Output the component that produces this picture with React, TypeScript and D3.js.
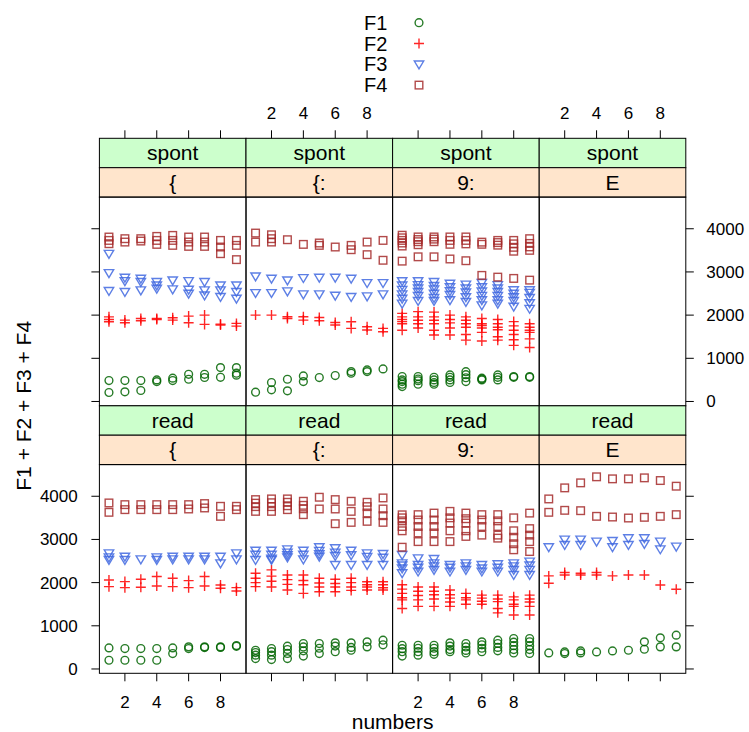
import React from "react";
import * as d3 from "d3";

// formant values per x level (1..9), several observations per level
const series = ["F1", "F2", "F3", "F4"];
const outerLevels = ["spont", "read"];
const innerLevels = ["{", "{:", "9:", "E"];

const spontA_F1 = [[485, 208], [485, 223], [485, 254], [460, 500], [485, 540], [630, 515], [630, 555], [785, 560], [785, 655, 610]];
const spontA_F2 = [[1960, 1900, 1846], [1885, 1823], [1923, 1870], [1923, 1900], [1938, 1885], [1977, 1823], [2000, 1785], [1792, 1770], [1808, 1746]];
const spontA_F3 = [[3423, 2977, 2562], [2870, 2792, 2540], [2846, 2770, 2577], [2770, 2692, 2615], [2808, 2600], [2792, 2592, 2500], [2770, 2577, 2460], [2692, 2577, 2423], [2692, 2540, 2385]];
const spontA_F4 = [[3808, 3730, 3654], [3770, 3692], [3770, 3715], [3823, 3730, 3638], [3846, 3730, 3615], [3808, 3692, 3592], [3808, 3692, 3592], [3730, 3577, 3423], [3730, 3615, 3285]];

const spontB_F1 = [[215], [438, 270], [515, 246], [592, 460], [554], [600], [692, 654], [730, 692], [754]];
const spontB_F2 = [[2000], [2000], [1962, 1923], [1962, 1885], [1946, 1870], [1830, 1770], [1846, 1692], [1730, 1654], [1692, 1615]];
const spontB_F3 = [[2900, 2515], [2846, 2515], [2808, 2554], [2862, 2485], [2870, 2485], [2870, 2454], [2846, 2423], [2746, 2438], [2746, 2485]];
const spontB_F4 = [[3900, 3692], [3860, 3770, 3692], [3746], [3638], [3670, 3615], [3577], [3615, 3515], [3692, 3400], [3730, 3270]];

const spontC_F1 = [[577, 500, 460, 400, 346], [577, 520, 480, 400], [560, 500, 440, 400], [615, 560, 500, 440], [690, 620, 550, 460], [540, 520, 500], [615, 560, 500], [577, 560], [577, 560]];
const spontC_F2 = [[2040, 1960, 1900, 1850, 1800, 1650], [2080, 1960, 1880, 1800, 1700], [2070, 1960, 1880, 1800, 1650, 1540], [2000, 1900, 1820, 1700, 1540], [1960, 1880, 1800, 1720, 1550, 1420], [1920, 1800, 1760, 1700, 1600, 1400], [1900, 1800, 1720, 1660, 1500, 1420], [1850, 1750, 1650, 1550, 1430, 1300], [1800, 1720, 1650, 1600, 1450, 1250]];
const spontC_F3 = [[2790, 2690, 2590, 2485, 2385, 2270], [2790, 2700, 2620, 2540, 2450, 2330], [2770, 2680, 2600, 2500, 2400, 2330], [2730, 2650, 2560, 2470, 2350], [2710, 2620, 2530, 2420, 2310], [2750, 2650, 2550, 2450, 2350, 2230], [2700, 2620, 2540, 2450, 2350, 2270], [2580, 2500, 2420, 2330, 2200], [2580, 2520, 2400, 2280, 2150]];
const spontC_F4 = [[3850, 3790, 3730, 3670, 3600, 3250], [3810, 3750, 3700, 3630, 3350], [3810, 3760, 3700, 3350], [3810, 3730, 3640, 3300], [3810, 3730, 3650, 3260], [3690, 3640, 2920], [3730, 3680, 3620, 2880], [3730, 3650, 3570, 3480, 2850], [3770, 3660, 3580, 3500, 2810]];

const readA_F1 = [[488, 202], [473, 202], [473, 202], [473, 202], [488, 357], [512, 473], [496, 512], [512, 500], [543, 525]];
const readA_F2 = [[2062, 1907], [2023, 1884], [2077, 1891], [2140, 1922], [2100, 1907], [2047, 1884], [2140, 1922], [1946, 1868], [1884, 1806]];
const readA_F3 = [[2682, 2589, 2527], [2605, 2527], [2543], [2589, 2527], [2605, 2543], [2605, 2543], [2605, 2543], [2605, 2450], [2682, 2543]];
const readA_F4 = [[3845, 3628], [3806, 3690], [3806, 3690], [3806, 3690], [3806, 3690], [3806, 3705], [3830, 3729], [3767, 3535], [3767, 3690]];

const readB_F1 = [[434, 380, 320, 240], [473, 400, 320, 217], [527, 450, 360, 240], [589, 510, 420, 300], [589, 480, 357], [605, 530, 400], [605, 500, 434], [628, 512], [667, 560]];
const readB_F2 = [[2217, 2100, 2000, 1907], [2295, 2150, 2030, 1900], [2178, 2070, 1960, 1830], [2178, 2050, 1950, 1750], [2100, 1990, 1900, 1790], [2077, 1980, 1900, 1790], [2100, 2000, 1900, 1820], [2020, 1950, 1900, 1830], [2020, 1950, 1880, 1830]];
const readB_F3 = [[2744, 2650, 2527], [2744, 2650, 2560, 2527], [2775, 2700, 2640, 2589], [2744, 2650, 2543], [2822, 2740, 2660, 2605], [2800, 2700, 2620, 2411], [2744, 2640, 2411], [2682, 2600, 2411], [2667, 2580, 2411]];
const readB_F4 = [[3922, 3840, 3760, 3650], [3938, 3850, 3760, 3650], [3938, 3860, 3780, 3690], [3884, 3790, 3710, 3574], [3977, 3705], [3922, 3705, 3364], [3884, 3650, 3395], [3860, 3760, 3612, 3419], [3961, 3705, 3550, 3395]];

const readC_F1 = [[550, 470, 400, 300], [550, 480, 400, 320], [550, 480, 400, 340], [605, 530, 450, 400], [589, 510, 430, 370], [628, 560, 480, 400], [667, 590, 500, 420], [705, 620, 540, 450, 370], [705, 630, 540, 450, 360]];
const readC_F2 = [[1950, 1850, 1750, 1650, 1600, 1400], [1900, 1800, 1700, 1600, 1450], [1900, 1800, 1720, 1620, 1450], [1830, 1720, 1640, 1550, 1450], [1750, 1650, 1600, 1500], [1710, 1640, 1570, 1500], [1710, 1620, 1560, 1400, 1300], [1670, 1600, 1500, 1450, 1250], [1710, 1620, 1550, 1450, 1250]];
const readC_F3 = [[2643, 2450, 2400, 2330, 2220], [2566, 2411, 2350, 2260], [2550, 2450, 2380, 2300], [2411, 2350, 2260], [2450, 2380, 2300], [2411, 2330, 2260], [2430, 2350, 2260], [2450, 2380, 2300, 2180], [2490, 2400, 2300, 2180]];
const readC_F4 = [[3570, 3500, 3430, 3300, 3200, 2820], [3574, 3450, 3300, 3150, 2950], [3610, 3450, 3300, 3150, 2950], [3650, 3500, 3380, 3200, 2950], [3610, 3480, 3380, 3200, 3070], [3574, 3450, 3300, 3100], [3574, 3430, 3300, 3100, 3030], [3500, 3200, 3050, 2900, 2760], [3610, 3250, 3100, 2950, 2720]];

const readD_F1 = [[372], [395, 357], [419, 372], [395], [419], [434], [628, 457], [721, 512], [783, 512]];
const readD_F2 = [[2155, 1984], [2233, 2178], [2217, 2178], [2233, 2178], [2155], [2178], [2178], [1946], [1845]];
const readD_F3 = [[2822], [3000, 2876], [3000, 2876], [2953], [2970, 2822], [3031, 2876], [3031, 2900], [2953, 2775], [2837]];
const readD_F4 = [[3938, 3628], [4194, 3674], [4310, 3666], [4450, 3535], [4403, 3519], [4403, 3496], [4426, 3512], [4364, 3535], [4233, 3574]];

const panelData = [
  [[spontA_F1, spontA_F2, spontA_F3, spontA_F4], [spontB_F1, spontB_F2, spontB_F3, spontB_F4], [spontC_F1, spontC_F2, spontC_F3, spontC_F4], null],
  [[readA_F1, readA_F2, readA_F3, readA_F4], [readB_F1, readB_F2, readB_F3, readB_F4], [readC_F1, readC_F2, readC_F3, readC_F4], [readD_F1, readD_F2, readD_F3, readD_F4]],
];

const colors = ["darkgreen", "#ff0000", "royalblue", "brown"];
const FONT = "'Liberation Sans', Arial, Helvetica, sans-serif";

const left = 99.4, top = 138.3, panelW = 146.6, panelH = 208.7, stripH = 29.4;
const rowH = 2 * stripH + panelH;

function Symbol({ s, x, y }: { s: number; x: number; y: number }) {
  const c = colors[s];
  const common = { fill: "none", stroke: c, strokeWidth: 1.4, strokeOpacity: 0.85 };
  if (s === 0) return <circle cx={x} cy={y} r={3.9} {...common} />;
  if (s === 1) return <path d={`M${x - 5},${y}H${x + 5}M${x},${y - 5}V${y + 5}`} {...common} />;
  if (s === 2) return <path d={`M${x - 4.7},${y - 3.3}L${x + 4.7},${y - 3.3}L${x},${y + 4.6}Z`} {...common} />;
  return <rect x={x - 3.8} y={y - 3.8} width={7.6} height={7.6} {...common} />;
}

export default function App() {
  const x = d3.scaleLinear().domain([0.4, 9.6]).range([0, panelW]);
  const y = d3.scaleLinear().domain([-100, 4733]).range([panelH, 0]);
  const xTicks = x.ticks(5);
  const yTicks = y.ticks(5);
  const tick = 8;

  const panels: React.ReactNode[] = [];
  outerLevels.forEach((outer, r) => {
    innerLevels.forEach((inner, c) => {
      const px = left + c * panelW;
      const py = top + r * rowH;
      const data = panelData[r][c];
      panels.push(
        <g key={`${r}-${c}`} transform={`translate(${px},${py})`}>
          <rect width={panelW} height={stripH} fill="#ccffcc" stroke="black" />
          <text x={panelW / 2} y={stripH / 2} dy="0.35em" textAnchor="middle" fontSize={21}>{outer}</text>
          <rect y={stripH} width={panelW} height={stripH} fill="#ffe5cc" stroke="black" />
          <text x={panelW / 2} y={stripH * 1.5} dy="0.35em" textAnchor="middle" fontSize={21}>{inner}</text>
          <g transform={`translate(0,${2 * stripH})`}>
            {data && data.map((ser, s) => (
              <g key={s}>
                {ser.map((vals, i) => vals.map((v, k) => (
                  <Symbol key={`${i}-${k}`} s={s} x={x(i + 1)} y={y(v)} />
                )))}
              </g>
            ))}
            <rect width={panelW} height={panelH} fill="none" stroke="black" />
            {/* top axis */}
            {r === 0 && xTicks.map(t => (
              <g key={`t${t}`}>
                <line x1={x(t)} x2={x(t)} y1={-2 * stripH} y2={-2 * stripH - tick} stroke="black" />
                {c % 2 === 1 && <text x={x(t)} y={-2 * stripH - 25.6} dy="0.35em" textAnchor="middle" fontSize={17}>{t}</text>}
              </g>
            ))}
            {/* bottom axis */}
            {r === 1 && xTicks.map(t => (
              <g key={`b${t}`}>
                <line x1={x(t)} x2={x(t)} y1={panelH} y2={panelH + tick} stroke="black" />
                {c % 2 === 0 && <text x={x(t)} y={panelH + 28.7} dy="0.35em" textAnchor="middle" fontSize={17}>{t}</text>}
              </g>
            ))}
            {/* left axis */}
            {c === 0 && yTicks.map(t => (
              <g key={`l${t}`}>
                <line x1={0} x2={-tick} y1={y(t)} y2={y(t)} stroke="black" />
                {r === 1 && <text x={-21.7} y={y(t)} dy="0.35em" textAnchor="end" fontSize={17}>{t}</text>}
              </g>
            ))}
            {/* right axis */}
            {c === 3 && yTicks.map(t => (
              <g key={`r${t}`}>
                <line x1={panelW} x2={panelW + tick} y1={y(t)} y2={y(t)} stroke="black" />
                {r === 0 && <text x={panelW + 20.5} y={y(t)} dy="0.35em" textAnchor="start" fontSize={17}>{t}</text>}
              </g>
            ))}
          </g>
        </g>
      );
    });
  });

  const legendX = 364, legendY = 22.7, legendStep = 20.8;
  const midX = left + 2 * panelW;
  // ylab is centred on the whole panel block, strips included
  const midY = (top + top + 2 * rowH) / 2;

  return (
    <svg width={749} height={732} style={{ position: "absolute", left: 0, top: 0, background: "white" }} fontFamily={FONT}>
      <rect width={749} height={732} fill="white" />
      {series.map((name, i) => (
        <g key={name}>
          <text x={legendX} y={legendY + i * legendStep} dy="0.35em" fontSize={20}>{name}</text>
          <Symbol s={i} x={419} y={legendY + i * legendStep} />
        </g>
      ))}
      {panels}
      <text x={midX} y={722} dy="0.35em" textAnchor="middle" fontSize={21}>numbers</text>
      <text transform={`translate(24,${midY}) rotate(-90)`} dy="0.35em" textAnchor="middle" fontSize={21}>F1 + F2 + F3 + F4</text>
    </svg>
  );
}
